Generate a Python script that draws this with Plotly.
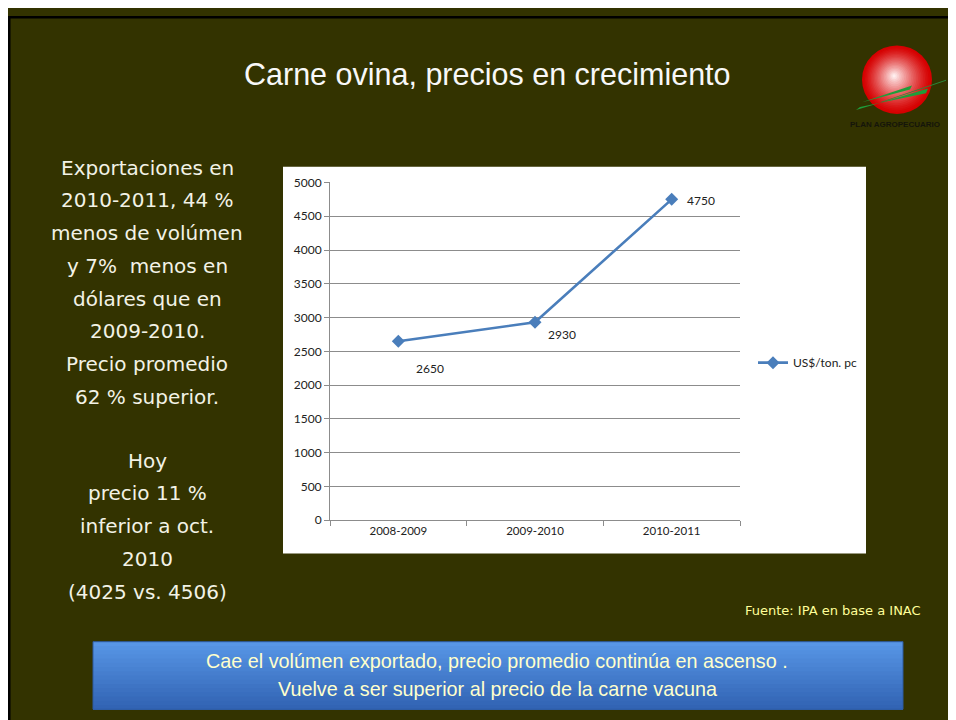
import plotly.graph_objects as go

W, H = 956, 720

# ---- data ----
categories = ["2008-2009", "2009-2010", "2010-2011"]
prices = [2650, 2930, 4750]
series_name = "US$/ton. pc"
y_ticks = [0, 500, 1000, 1500, 2000, 2500, 3000, 3500, 4000, 4500, 5000]

title_text = "Carne ovina, precios en crecimiento"
left_lines_top = ["Exportaciones en", "2010-2011, 44 %", "menos de volúmen", "y 7%  menos en",
                  "dólares que en", "2009-2010.", "Precio promedio", "62 % superior."]
left_lines_bottom = ["Hoy", "precio 11 %", "inferior a oct.", "2010", "(4025 vs. 4506)"]
source_text = "Fuente: IPA en base a INAC"
box_lines = ["Cae el volúmen exportado, precio promedio continúa en ascenso .",
             "Vuelve a ser superior al precio de la carne vacuna"]
logo_text = "PLAN AGROPECUARIO"

OFF = 8  # page margin around the figure


def px(x):
    return (x - OFF) / W


def py(y):
    return 1 - (y - OFF) / H


OLIVE = "#333300"
LINE = "#4a7ebb"
GRID = "#8c8c8c"

fig = go.Figure()
fig.add_trace(go.Scatter(
    x=categories, y=prices, mode="lines+markers", name=series_name,
    line=dict(color=LINE, width=2.6),
    marker=dict(symbol="diamond", size=10, color=LINE),
))

shapes = []
# slide border (top and left dark edge)
shapes.append(dict(type="rect", xref="paper", yref="paper", x0=0, x1=1, y0=py(10.5), y1=1,
                   fillcolor="black", line_width=0, layer="below"))
shapes.append(dict(type="rect", xref="paper", yref="paper", x0=0, x1=px(10.5), y0=0, y1=1,
                   fillcolor="black", line_width=0, layer="below"))
# chart white box
shapes.append(dict(type="rect", xref="paper", yref="paper", x0=px(283), x1=px(866), y0=py(557), y1=py(162),
                   fillcolor="white", line_width=0, layer="below"))

# blue box with vertical gradient (overlapping bands, no seams)
bx0, bx1, by0, by1 = 93, 903, 647, 716
n = 16
top_rgb = (88, 150, 230)
bot_rgb = (50, 100, 180)
for i in range(n):
    t = i / (n - 1)
    c = tuple(int(top_rgb[k] + (bot_rgb[k] - top_rgb[k]) * t) for k in range(3))
    ya = by0 + (by1 - by0) * i / n
    shapes.append(dict(type="rect", xref="paper", yref="paper", x0=px(bx0), x1=px(bx1),
                       y0=py(by1), y1=py(ya), fillcolor="rgb(%d,%d,%d)" % c, line_width=0, layer="below"))
shapes.append(dict(type="rect", xref="paper", yref="paper", x0=px(bx0), x1=px(bx1),
                   y0=py(by1), y1=py(by0), fillcolor="rgba(0,0,0,0)",
                   line=dict(color="#2d5aa0", width=1), layer="below"))

# logo: red sphere (concentric circles) + green swooshes
cx, cy, r = 897, 73, 35
hx, hy = 894, 69
nsteps = 22
c_out = (214, 0, 0)
c_in = (255, 238, 238)
for i in range(nsteps):
    f = 1 - i / nsteps
    t = (i / (nsteps - 1)) ** 1.3
    col = tuple(int(c_out[k] + (c_in[k] - c_out[k]) * t) for k in range(3))
    ccx = hx + (cx - hx) * f
    ccy = hy + (cy - hy) * f
    rr = r * f
    shapes.append(dict(type="circle", xref="paper", yref="paper",
                       x0=px(ccx - rr), x1=px(ccx + rr), y0=py(ccy + rr), y1=py(ccy - rr),
                       fillcolor="rgb(%d,%d,%d)" % col, line_width=0, layer="below"))


def path(pts):
    return "M " + " L ".join("%f,%f" % (px(a), py(b)) for a, b in pts) + " Z"


shapes.append(dict(type="path", xref="paper", yref="paper",
                   path=path([(856, 104), (928, 82), (926, 87), (860, 101)]),
                   fillcolor="#1e9e3a", line_width=0, layer="below"))
shapes.append(dict(type="path", xref="paper", yref="paper",
                   path=path([(862, 96), (912, 79), (910, 83), (866, 95)]),
                   fillcolor="#1e9e3a", line_width=0, layer="below"))
shapes.append(dict(type="path", xref="paper", yref="paper",
                   path=path([(880, 96), (946, 73), (946, 74), (882, 96)]),
                   fillcolor="#2a8a3a", line_width=0, layer="below"))

annotations = []
annotations.append(dict(text=title_text, x=px(487), y=py(68), xref="paper", yref="paper",
                        showarrow=False, xanchor="center", yanchor="middle",
                        font=dict(family="Liberation Sans, Arial", size=30.5, color="#f8f8f8")))
left_font = dict(family="DejaVu Sans", size=20, color="#f2f2e6")
for i, t in enumerate(left_lines_top):
    annotations.append(dict(text=t, x=px(147), y=py(163 + 33.4 * i), xref="paper", yref="paper",
                            showarrow=False, xanchor="center", yanchor="middle", font=left_font))
for i, t in enumerate(left_lines_bottom):
    annotations.append(dict(text=t, x=px(147), y=py(462 + 33.6 * i), xref="paper", yref="paper",
                            showarrow=False, xanchor="center", yanchor="middle", font=left_font))
annotations.append(dict(text=source_text, x=px(923), y=py(615), xref="paper", yref="paper",
                        showarrow=False, xanchor="right", yanchor="middle",
                        font=dict(family="DejaVu Sans", size=13, color="#ffff99")))
for i, t in enumerate(box_lines):
    annotations.append(dict(text=t, x=px(497), y=py(667 + 28 * i), xref="paper", yref="paper",
                            showarrow=False, xanchor="center", yanchor="middle",
                            font=dict(family="Liberation Sans, Arial", size=19.8, color="#ffffcc")))
annotations.append(dict(text="<b>" + logo_text + "</b>", x=px(895), y=py(119), xref="paper", yref="paper",
                        showarrow=False, xanchor="center", yanchor="middle",
                        font=dict(family="Liberation Sans", size=8, color="#15150a")))

# data labels
label_offsets = [(16, -27), (11, -12), (13, -1)]
for c, v, (dx, dy) in zip(categories, prices, label_offsets):
    annotations.append(dict(text=str(v), x=c, y=v, xref="x", yref="y", showarrow=False,
                            xanchor="left", yanchor="middle", xshift=dx, yshift=dy,
                            font=dict(family="Lato, Open Sans", size=12, color="#222222")))

chart_font = dict(family="Lato, Open Sans", size=12, color="#222222")
fig.update_layout(
    width=W, height=H,
    margin=dict(l=0, r=0, t=0, b=0),
    paper_bgcolor=OLIVE, plot_bgcolor="white",
    showlegend=True,
    legend=dict(x=px(753), y=py(362), xanchor="left", yanchor="middle",
                bgcolor="rgba(0,0,0,0)", font=chart_font, itemwidth=30),
    xaxis=dict(domain=[px(330), px(740)], type="category", showgrid=False,
               showline=True, linecolor=GRID, linewidth=1,
               ticks="outside", tickson="boundaries", ticklen=5, tickcolor=GRID,
               tickfont=dict(family="Lato, Open Sans", size=11.5, color="#222222"),
               range=[-0.5, 2.5], fixedrange=True),
    yaxis=dict(domain=[py(523), py(178)], range=[0, 5000], tickvals=y_ticks,
               showgrid=True, gridcolor=GRID, gridwidth=1,
               showline=True, linecolor=GRID, linewidth=1,
               ticks="outside", ticklen=5, tickcolor=GRID,
               tickfont=chart_font, zeroline=False),
    shapes=shapes, annotations=annotations,
)

fig.write_html("out.html")
